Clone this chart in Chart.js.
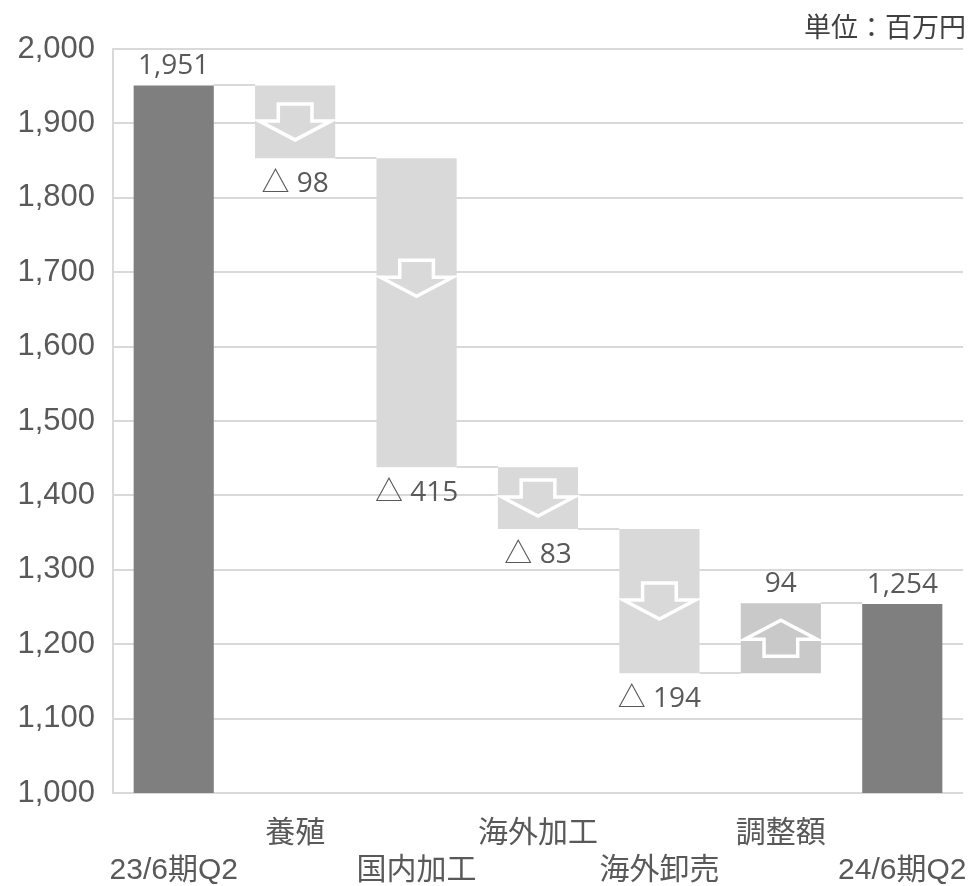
<!DOCTYPE html>
<html>
<head>
<meta charset="utf-8">
<script src="https://cdn.jsdelivr.net/npm/chart.js@4.4.1/dist/chart.umd.min.js"></script>
<style>
  html, body { margin: 0; padding: 0; background: #ffffff; }
  #wrap { width: 972px; height: 886px; }
</style>
</head>
<body>
<div id="wrap"><canvas id="c" width="972" height="886"></canvas></div>
<script>
// Operating profit bridge, 23/6期Q2 -> 24/6期Q2 (百万円)
const categories = ['23/6期Q2', '養殖', '国内加工', '海外加工', '海外卸売', '調整額', '24/6期Q2'];
const startValue = 1951;
const changes = [-98, -415, -83, -194, 94];
const endValue = 1254;
const yMin = 1000;
const yMax = 2000;
const yStep = 100;
const unitText = '単位：百万円';

// Floating ranges for each bar, and the level each bar ends at
const ranges = [[yMin, startValue]];
const kinds = ['total'];
const levels = [startValue];
let level = startValue;
changes.forEach(d => {
  const next = level + d;
  ranges.push([Math.min(level, next), Math.max(level, next)]);
  kinds.push(d < 0 ? 'down' : 'up');
  level = next;
  levels.push(level);
});
ranges.push([yMin, endValue]);
kinds.push('total');
levels.push(endValue);

const valueText = [startValue.toLocaleString('en-US')]
  .concat(changes.map(d => d < 0 ? '△ ' + Math.abs(d) : String(d)))
  .concat([endValue.toLocaleString('en-US')]);

const colorFor = { total: '#7f7f7f', down: '#d9d9d9', up: '#c9c9c9' };
const TEXT = '#595959';

// Two staggered rows of category labels
const labels = categories.map((c, i) => i % 2 ? [c, ''] : ['', c]);

const decor = {
  id: 'decor',
  beforeDatasetsDraw(chart) {
    const ctx = chart.ctx;
    const meta = chart.getDatasetMeta(0);
    const y = chart.scales.y;
    ctx.save();
    ctx.strokeStyle = '#d9d9d9';
    ctx.lineWidth = 2;
    for (let i = 0; i < meta.data.length - 1; i++) {
      const a = meta.data[i], b = meta.data[i + 1];
      const py = Math.round(y.getPixelForValue(levels[i]));
      ctx.beginPath();
      ctx.moveTo(a.x + a.width / 2, py);
      ctx.lineTo(b.x - b.width / 2, py);
      ctx.stroke();
    }
    ctx.restore();
  },
  afterDatasetsDraw(chart) {
    const ctx = chart.ctx;
    const meta = chart.getDatasetMeta(0);
    ctx.save();
    meta.data.forEach((bar, i) => {
      const kind = kinds[i];
      const top = Math.min(bar.y, bar.base);
      const bottom = Math.max(bar.y, bar.base);
      // Hollow white arrows inside the change bars, kept near the top of tall bars
      if (kind !== 'total') {
        const cx = bar.x;
        const cy = Math.min((top + bottom) / 2, top + 120);
        const w = bar.width * 0.9, sw = bar.width * 0.42;
        const H = 36, shaftH = 17;
        ctx.beginPath();
        if (kind === 'down') {
          const t = cy - H / 2;
          ctx.moveTo(cx - sw / 2, t);
          ctx.lineTo(cx + sw / 2, t);
          ctx.lineTo(cx + sw / 2, t + shaftH);
          ctx.lineTo(cx + w / 2, t + shaftH);
          ctx.lineTo(cx, t + H);
          ctx.lineTo(cx - w / 2, t + shaftH);
          ctx.lineTo(cx - sw / 2, t + shaftH);
        } else {
          const b = cy + H / 2;
          ctx.moveTo(cx - sw / 2, b);
          ctx.lineTo(cx + sw / 2, b);
          ctx.lineTo(cx + sw / 2, b - shaftH);
          ctx.lineTo(cx + w / 2, b - shaftH);
          ctx.lineTo(cx, b - H);
          ctx.lineTo(cx - w / 2, b - shaftH);
          ctx.lineTo(cx - sw / 2, b - shaftH);
        }
        ctx.closePath();
        ctx.strokeStyle = '#ffffff';
        ctx.lineWidth = 3.5;
        ctx.lineJoin = 'miter';
        ctx.stroke();
      }
      // Value labels
      ctx.fillStyle = TEXT;
      ctx.font = '28px "Open Sans", "Noto Sans CJK JP", sans-serif';
      ctx.textAlign = 'center';
      ctx.textBaseline = 'middle';
      if (kind === 'down') {
        ctx.fillText(valueText[i], bar.x, bottom + 26);
      } else {
        ctx.fillText(valueText[i], bar.x, top - 19);
      }
    });
    // Unit note
    ctx.fillStyle = '#404040';
    ctx.font = '27px "Noto Sans CJK JP", sans-serif';
    ctx.textAlign = 'right';
    ctx.textBaseline = 'middle';
    ctx.fillText(unitText, 966, 27);
    ctx.restore();
  }
};

new Chart(document.getElementById('c'), {
  type: 'bar',
  data: {
    labels: labels,
    datasets: [{
      data: ranges,
      backgroundColor: kinds.map(k => colorFor[k]),
      borderWidth: 0,
      barPercentage: 0.66,
      categoryPercentage: 1
    }]
  },
  options: {
    responsive: false,
    devicePixelRatio: 1,
    animation: false,
    layout: { padding: { top: 49, right: 9, bottom: 0, left: 0 } },
    plugins: { legend: { display: false }, tooltip: { enabled: false } },
    scales: {
      x: {
        grid: { display: false },
        border: { display: false },
        ticks: {
          color: TEXT,
          font: { family: '"Liberation Sans", "Noto Sans CJK JP", sans-serif', size: 30, lineHeight: 1.24 },
          padding: 14,
          maxRotation: 0,
          autoSkip: false
        },
        afterFit(s) { s.height = 93; s.paddingLeft = 0; s.paddingRight = 0; }
      },
      y: {
        min: yMin,
        max: yMax,
        ticks: {
          stepSize: yStep,
          color: TEXT,
          font: { family: '"Liberation Sans", Arial, sans-serif', size: 31 },
          padding: 18,
          callback: v => Number(v).toLocaleString('en-US')
        },
        grid: { color: '#d9d9d9', lineWidth: 2, drawTicks: false },
        border: { display: true, color: '#d9d9d9', width: 2 },
        afterFit(s) { s.width = 113; }
      }
    }
  },
  plugins: [decor]
});
</script>
</body>
</html>
